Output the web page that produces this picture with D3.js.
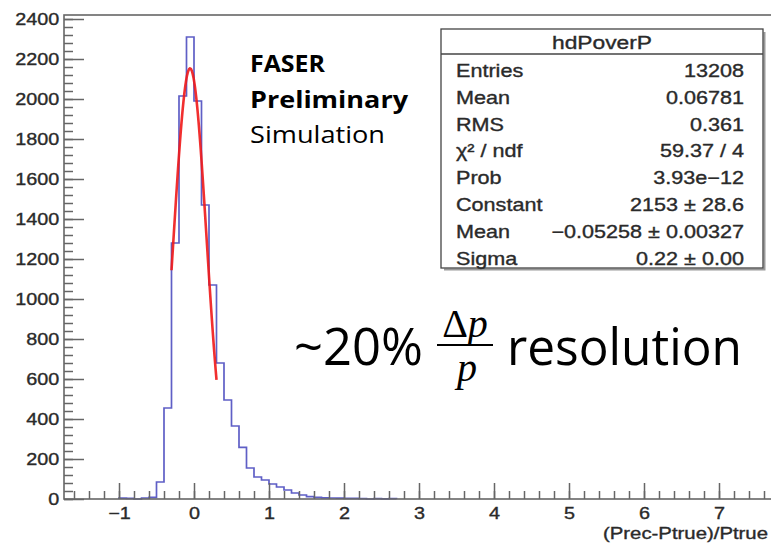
<!DOCTYPE html>
<html>
<head>
<meta charset="utf-8">
<script src="https://cdn.jsdelivr.net/npm/d3@7/dist/d3.min.js"></script>
<style>
  body { margin: 0; background: #fff; }
  svg { display: block; }
</style>
</head>
<body>
<svg id="chart" width="771" height="545"></svg>
<script>
// histogram hdPoverP, bins of 0.1 starting at -1.0
const binStart = -1.0;
const binWidth = 0.1;
const binCounts = [
  4, 3, 0, 5, 8,                       // -1.0 .. -0.5
  85, 455, 1280, 2015, 2310,           // -0.5 .. 0.0
  1990, 1470, 1070, 680, 495,          // 0.0 .. 0.5
  365, 258, 155, 110, 95,              // 0.5 .. 1.0
  75, 60, 45, 30, 20,                  // 1.0 .. 1.5
  12, 8, 6, 5, 4,                      // 1.5 .. 2.0
  3, 3, 2, 0, 2, 1, 2                  // 2.0 .. 2.7
];

// gaussian fit (from stats box) and its range
const fitConstant = 2153;
const fitMean = -0.05258;
const fitSigma = 0.22;
const fitRange = [-0.3, 0.3];

const xTicks = [-1, 0, 1, 2, 3, 4, 5, 6, 7];
const yTicks = [0, 200, 400, 600, 800, 1000, 1200, 1400, 1600, 1800, 2000, 2200, 2400];

const statLabels = ["Entries", "Mean", "RMS", "χ² / ndf", "Prob", "Constant", "Mean", "Sigma"];
const statValues = ["13208", "0.06781", "0.361", "59.37 / 4", "3.93e−12", "2153 ± 28.6", "−0.05258 ± 0.00327", "0.22 ± 0.00"];

const SX = 1.2;               // ROOT canvas in the slide is stretched sideways
const rootFont = "'Liberation Sans', Arial, Helvetica, sans-serif";
const axisColor = "#666";
const textColor = "#2a2a2a";

const svg = d3.select("#chart");

const frame = { left: 64, top: 15, right: 775, bottom: 499 };
const x = d3.scaleLinear().domain([-1.7333, 7.7467]).range([frame.left, frame.right]);
const y = d3.scaleLinear().domain([0, 2420]).range([frame.bottom, frame.top]);

// ROOT text looks a little heavier after the slide's rescale
function rootText(sel, size) {
  return sel
    .attr("font-family", rootFont)
    .attr("font-size", size)
    .attr("fill", textColor)
    .attr("stroke", textColor)
    .attr("stroke-width", 0.35);
}

// histogram outline (drawn first so the axis covers empty bins)
const histPath = d3.path();
histPath.moveTo(x(binStart), y(0));
binCounts.forEach((c, i) => {
  const lo = binStart + i * binWidth;
  histPath.lineTo(x(lo), y(c));
  histPath.lineTo(x(lo + binWidth), y(c));
});
histPath.lineTo(x(binStart + binCounts.length * binWidth), y(0));

svg.append("path")
  .attr("d", histPath.toString())
  .attr("fill", "none")
  .attr("stroke", "#5f5fc6")
  .attr("stroke-width", 1.7);

// frame
svg.append("rect")
  .attr("x", frame.left)
  .attr("y", frame.top)
  .attr("width", frame.right - frame.left)
  .attr("height", frame.bottom - frame.top)
  .attr("fill", "none")
  .attr("stroke", axisColor)
  .attr("stroke-width", 1.6);

// y axis, ticks point inward
const yMinor = d3.range(0, 2420, 40);
svg.append("g")
  .attr("transform", `translate(${frame.left},0)`)
  .call(d3.axisLeft(y).tickValues(yMinor).tickSizeInner(-9).tickSizeOuter(0).tickFormat(""))
  .call(g => g.select(".domain").remove());

const gy = svg.append("g")
  .attr("transform", `translate(${frame.left},0)`)
  .call(d3.axisLeft(y).tickValues(yTicks).tickSizeInner(-20).tickSizeOuter(0).tickPadding(4).tickFormat(d3.format("d")));
gy.select(".domain").remove();

// x axis
const xMinor = d3.range(-1.6, 7.75, 0.2);
svg.append("g")
  .attr("transform", `translate(0,${frame.bottom})`)
  .call(d3.axisBottom(x).tickValues(xMinor).tickSizeInner(-8).tickSizeOuter(0).tickFormat(""))
  .call(g => g.select(".domain").remove());

const gx = svg.append("g")
  .attr("transform", `translate(0,${frame.bottom})`)
  .call(d3.axisBottom(x).tickValues(xTicks).tickSizeInner(-16).tickSizeOuter(0).tickPadding(8).tickFormat(d3.format("d")));
gx.select(".domain").remove();

svg.selectAll(".tick line")
  .attr("stroke", axisColor)
  .attr("stroke-width", 1.5);

svg.selectAll(".tick text")
  .call(rootText, 16.5)
  .attr("transform", `scale(${SX},1)`);

// x axis title
svg.append("text")
  .attr("x", 603).attr("y", 539)
  .attr("textLength", 165)
  .attr("lengthAdjust", "spacingAndGlyphs")
  .call(rootText, 16.5)
  .text("(Prec-Ptrue)/Ptrue");

// gaussian fit curve
const fitPts = d3.range(fitRange[0], fitRange[1] + 1e-9, 0.005).map(v => [
  v, fitConstant * Math.exp(-0.5 * Math.pow((v - fitMean) / fitSigma, 2))
]);
svg.append("path")
  .datum(fitPts)
  .attr("d", d3.line().x(d => x(d[0])).y(d => y(d[1])))
  .attr("fill", "none")
  .attr("stroke", "#f01818")
  .attr("stroke-width", 2.6)
  .attr("stroke-opacity", 0.9);

// stats box
const box = { x: 441, y: 29, w: 322, h: 239, titleH: 25 };
const gBox = svg.append("g");
gBox.append("path")
  .attr("d", `M${box.x + 3},${box.y + box.h + 1.5} H${box.x + box.w + 1.5} V${box.y + 3}`)
  .attr("fill", "none")
  .attr("stroke", "#9a9a9a")
  .attr("stroke-width", 2);
gBox.append("rect")
  .attr("x", box.x).attr("y", box.y)
  .attr("width", box.w).attr("height", box.h)
  .attr("fill", "#fff")
  .attr("stroke", "#444")
  .attr("stroke-width", 1.3);
gBox.append("line")
  .attr("x1", box.x).attr("x2", box.x + box.w)
  .attr("y1", box.y + box.titleH).attr("y2", box.y + box.titleH)
  .attr("stroke", "#444")
  .attr("stroke-width", 1.3);

gBox.append("text")
  .attr("transform", `translate(${box.x + box.w / 2},48.5) scale(${SX},1)`)
  .attr("text-anchor", "middle")
  .call(rootText, 19)
  .text("hdPoverP");

statLabels.forEach((lab, i) => {
  const by = 77 + i * 26.8;
  gBox.append("text")
    .attr("transform", `translate(456,${by}) scale(${SX},1)`)
    .call(rootText, 18)
    .text(lab);
  gBox.append("text")
    .attr("transform", `translate(744,${by}) scale(${SX},1)`)
    .attr("text-anchor", "end")
    .call(rootText, 18)
    .text(statValues[i]);
});

// slide annotations
const slideFont = "'Open Sans', 'Noto Sans', sans-serif";
const gNote = svg.append("g").attr("font-family", slideFont).attr("fill", "#000");
gNote.append("text").attr("x", 250).attr("y", 72).attr("font-size", 24)
  .attr("font-weight", 700).attr("textLength", 75).attr("lengthAdjust", "spacingAndGlyphs").text("FASER");
gNote.append("text").attr("x", 250).attr("y", 108).attr("font-size", 24)
  .attr("font-weight", 700).attr("textLength", 158).attr("lengthAdjust", "spacingAndGlyphs").text("Preliminary");
gNote.append("text").attr("x", 250).attr("y", 143).attr("font-size", 24)
  .attr("textLength", 135).attr("lengthAdjust", "spacingAndGlyphs").text("Simulation");

gNote.append("text")
  .attr("x", 294).attr("y", 365)
  .attr("font-size", 52)
  .attr("textLength", 129).attr("lengthAdjust", "spacingAndGlyphs")
  .text("~20%");
gNote.append("text")
  .attr("x", 507).attr("y", 365)
  .attr("font-size", 52)
  .attr("textLength", 235).attr("lengthAdjust", "spacingAndGlyphs")
  .text("resolution");

const mathFont = "'Liberation Serif', 'DejaVu Serif', serif";
const gFrac = gNote.append("g").attr("font-family", mathFont);
const numT = gFrac.append("text").attr("x", 465).attr("y", 337).attr("text-anchor", "middle").attr("font-size", 40);
numT.append("tspan").text("Δ");
numT.append("tspan").attr("font-style", "italic").text("p");
gFrac.append("text")
  .attr("x", 467).attr("y", 381)
  .attr("text-anchor", "middle")
  .attr("font-size", 40)
  .attr("font-style", "italic")
  .text("p");
gFrac.append("line")
  .attr("x1", 437).attr("x2", 493)
  .attr("y1", 345).attr("y2", 345)
  .attr("stroke", "#000")
  .attr("stroke-width", 2);
</script>
</body>
</html>
